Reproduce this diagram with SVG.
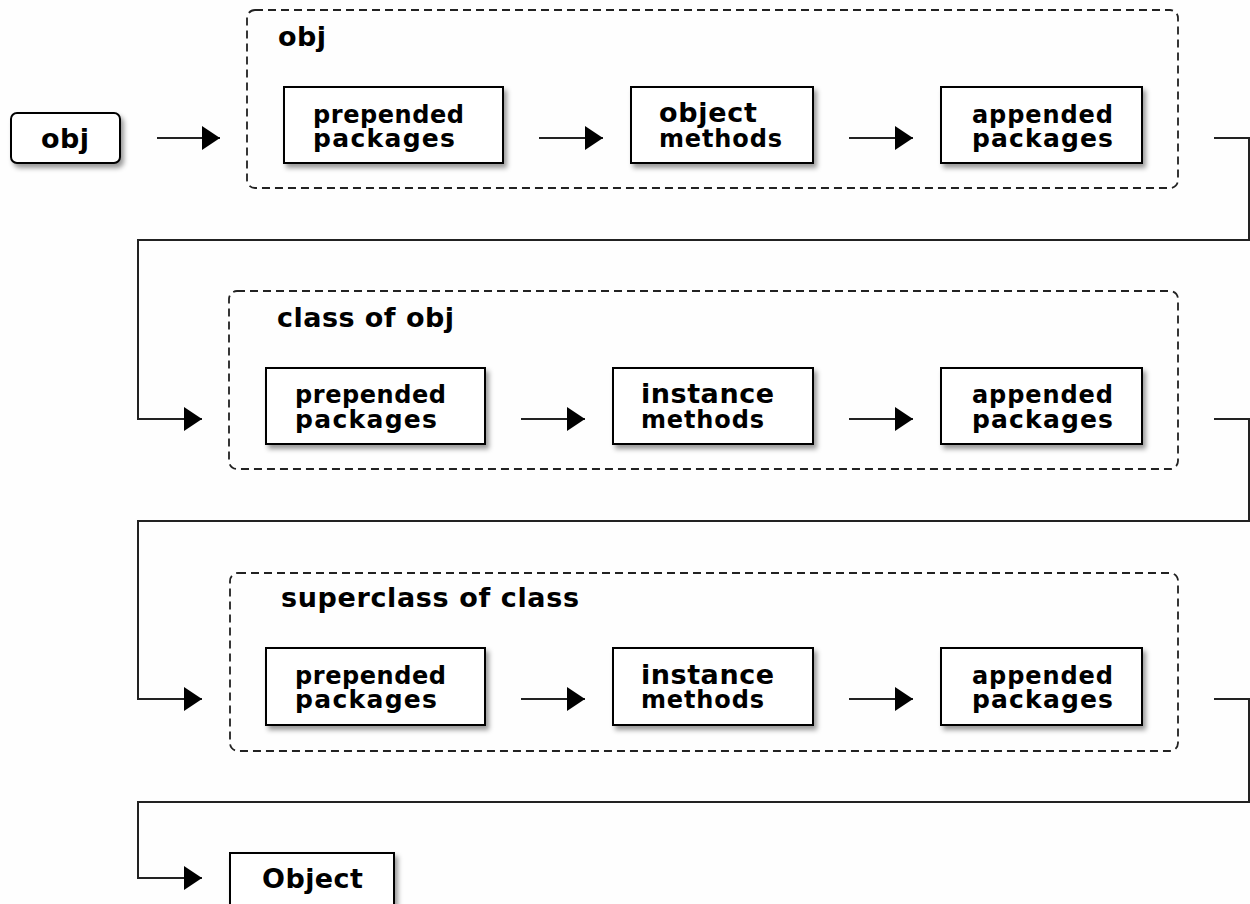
<svg xmlns="http://www.w3.org/2000/svg" width="1250" height="904" viewBox="0 0 1250 904">
  <defs>
    <filter id="sh" x="-10%" y="-10%" width="130%" height="140%">
      <feDropShadow dx="3" dy="4" stdDeviation="2.5" flood-color="#000" flood-opacity="0.4"/>
    </filter>
    <marker id="ah" markerUnits="userSpaceOnUse" markerWidth="20" markerHeight="26" refX="18" refY="12" orient="auto">
      <path d="M0,0 L18,12 L0,24 Z" fill="#000"/>
    </marker>
  </defs>
  <style>
    .box { fill: #fff; stroke: #000; stroke-width: 2; filter: url(#sh); }
    .grp { fill: none; stroke: #222; stroke-width: 1.8; stroke-dasharray: 8 5; }
    .t { font-family: "DejaVu Sans", "Liberation Sans", sans-serif; font-weight: bold; fill: #000; }
    .conn { fill: none; stroke: #222; stroke-width: 2; }
  </style>
  <rect width="1250" height="904" fill="#fefefe"/>

  <g id="node-obj">
    <rect class="box" x="11" y="113" width="109" height="50" rx="6"/>
    <text class="t" x="41" y="148" font-size="27" textLength="48" lengthAdjust="spacing">obj</text>
  </g>

  <g id="group-obj">
    <rect class="grp" x="247" y="10" width="931" height="178" rx="8"/>
    <text class="t" x="278" y="46" font-size="27" textLength="48" lengthAdjust="spacing">obj</text>
  </g>
  <g id="g1-prepended">
    <rect class="box" x="284" y="87" width="219" height="76"/>
    <text class="t" x="313" y="123" font-size="24" textLength="151" lengthAdjust="spacing">prepended</text>
    <text class="t" x="313" y="147" font-size="25" textLength="142" lengthAdjust="spacing">packages</text>
  </g>
  <g id="g1-object-methods">
    <rect class="box" x="631" y="87" width="182" height="76"/>
    <text class="t" x="659" y="122" font-size="27" textLength="98" lengthAdjust="spacing">object</text>
    <text class="t" x="659" y="147" font-size="24" textLength="123" lengthAdjust="spacing">methods</text>
  </g>
  <g id="g1-appended">
    <rect class="box" x="941" y="87" width="201" height="76"/>
    <text class="t" x="972" y="123" font-size="24" textLength="141" lengthAdjust="spacing">appended</text>
    <text class="t" x="972" y="147" font-size="25" textLength="141" lengthAdjust="spacing">packages</text>
  </g>

  <g id="group-class">
    <rect class="grp" x="229" y="291" width="949" height="178" rx="8"/>
    <text class="t" x="277" y="327" font-size="27" textLength="177" lengthAdjust="spacing">class of obj</text>
  </g>
  <g id="g2-prepended">
    <rect class="box" x="266" y="368" width="219" height="76"/>
    <text class="t" x="295" y="403" font-size="24" textLength="151" lengthAdjust="spacing">prepended</text>
    <text class="t" x="295" y="428" font-size="25" textLength="142" lengthAdjust="spacing">packages</text>
  </g>
  <g id="g2-instance-methods">
    <rect class="box" x="613" y="368" width="200" height="76"/>
    <text class="t" x="641" y="403" font-size="27" textLength="133" lengthAdjust="spacing">instance</text>
    <text class="t" x="641" y="428" font-size="24" textLength="123" lengthAdjust="spacing">methods</text>
  </g>
  <g id="g2-appended">
    <rect class="box" x="941" y="368" width="201" height="76"/>
    <text class="t" x="972" y="403" font-size="24" textLength="141" lengthAdjust="spacing">appended</text>
    <text class="t" x="972" y="428" font-size="25" textLength="141" lengthAdjust="spacing">packages</text>
  </g>

  <g id="group-superclass">
    <rect class="grp" x="230" y="573" width="948" height="178" rx="8"/>
    <text class="t" x="281" y="607" font-size="27" textLength="298" lengthAdjust="spacing">superclass of class</text>
  </g>
  <g id="g3-prepended">
    <rect class="box" x="266" y="648" width="219" height="77"/>
    <text class="t" x="295" y="684" font-size="24" textLength="151" lengthAdjust="spacing">prepended</text>
    <text class="t" x="295" y="708" font-size="25" textLength="142" lengthAdjust="spacing">packages</text>
  </g>
  <g id="g3-instance-methods">
    <rect class="box" x="613" y="648" width="200" height="77"/>
    <text class="t" x="641" y="684" font-size="27" textLength="133" lengthAdjust="spacing">instance</text>
    <text class="t" x="641" y="708" font-size="24" textLength="123" lengthAdjust="spacing">methods</text>
  </g>
  <g id="g3-appended">
    <rect class="box" x="941" y="648" width="201" height="77"/>
    <text class="t" x="972" y="684" font-size="24" textLength="141" lengthAdjust="spacing">appended</text>
    <text class="t" x="972" y="708" font-size="25" textLength="141" lengthAdjust="spacing">packages</text>
  </g>

  <g id="node-Object">
    <rect class="box" x="230" y="853" width="164" height="76"/>
    <text class="t" x="262" y="888" font-size="27" textLength="101" lengthAdjust="spacing">Object</text>
  </g>

  <g id="connectors">
    <path class="conn" d="M157,138 L220,138" marker-end="url(#ah)"/>
    <path class="conn" d="M539,138 L603,138" marker-end="url(#ah)"/>
    <path class="conn" d="M849,138 L913,138" marker-end="url(#ah)"/>
    <path class="conn" d="M1214,138 L1249,138 L1249,240 L138,240 L138,419 L202,419" marker-end="url(#ah)"/>
    <path class="conn" d="M521,419 L585,419" marker-end="url(#ah)"/>
    <path class="conn" d="M849,419 L913,419" marker-end="url(#ah)"/>
    <path class="conn" d="M1214,419 L1249,419 L1249,521 L138,521 L138,699 L202,699" marker-end="url(#ah)"/>
    <path class="conn" d="M521,699 L585,699" marker-end="url(#ah)"/>
    <path class="conn" d="M849,699 L913,699" marker-end="url(#ah)"/>
    <path class="conn" d="M1214,699 L1249,699 L1249,802 L138,802 L138,878 L202,878" marker-end="url(#ah)"/>
  </g>
</svg>
